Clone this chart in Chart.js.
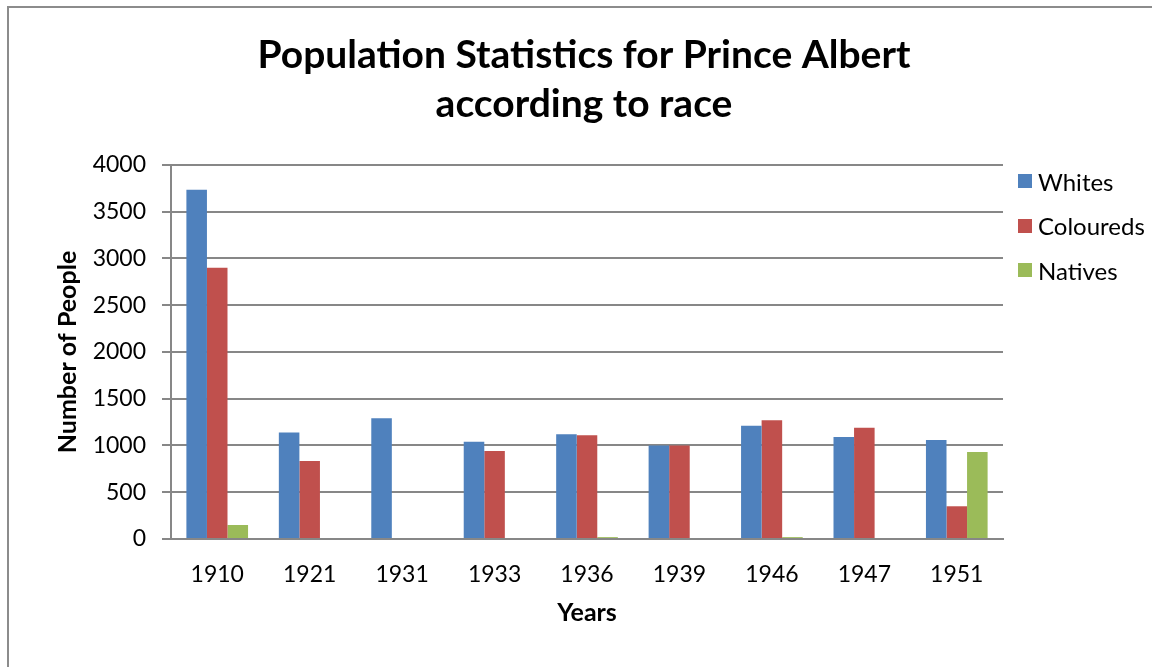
<!DOCTYPE html>
<html lang="en">
<head>
    <meta charset="UTF-8">
    <title>Population Statistics for Prince Albert</title>
    <script src="https://cdn.jsdelivr.net/npm/chart.js@4.4.0/dist/chart.umd.min.js"></script>
    <style>
        body {
            margin: 0;
            padding: 0;
            background: #ffffff;
            font-family: 'Lato', sans-serif;
        }
        /* gray frame around the chart, runs off the right and bottom */
        .frame {
            position: absolute;
            left: 7px;
            top: 6px;
            width: 1160px;
            height: 700px;
            border: 2px solid #8c8c8c;
        }
        .chart-box {
            position: absolute;
            left: 0;
            top: 0;
            width: 1152px;
            height: 667px;
        }
        /* legend on the right, built from the datasets */
        #legend {
            position: absolute;
            left: 1018px;
            top: 167px;
            margin: 0;
            padding: 0;
            list-style: none;
            font-size: 24px;
            color: #000000;
        }
        #legend li {
            display: flex;
            align-items: center;
            height: 28px;
            margin-bottom: 16.5px;
        }
        #legend .swatch {
            display: inline-block;
            width: 14px;
            height: 14px;
            margin-right: 6px;
        }
    </style>
</head>
<body>
    <div class="frame"></div>
    <div class="chart-box">
        <canvas id="popChart"></canvas>
    </div>
    <ul id="legend"></ul>

    <script>
        // Data
        const years = ['1910', '1921', '1931', '1933', '1936', '1939', '1946', '1947', '1951'];
        const whites = [3735, 1140, 1290, 1040, 1120, 1000, 1210, 1090, 1060];
        const coloureds = [2900, 835, 0, 940, 1110, 1000, 1270, 1190, 350];
        const natives = [150, 0, 0, 0, 20, 0, 20, 0, 930];

        const fontFamily = "'Lato', sans-serif";
        const gridColor = '#878787';

        Chart.defaults.font.family = fontFamily;
        Chart.defaults.color = '#000000';

        const ctx = document.getElementById('popChart').getContext('2d');

        const popChart = new Chart(ctx, {
            type: 'bar',
            data: {
                labels: years,
                datasets: [
                    { label: 'Whites', data: whites, backgroundColor: '#4F81BD' },
                    { label: 'Coloureds', data: coloureds, backgroundColor: '#C0504D' },
                    { label: 'Natives', data: natives, backgroundColor: '#9BBB59' }
                ]
            },
            options: {
                responsive: true,
                maintainAspectRatio: false,
                animation: false,
                datasets: {
                    bar: {
                        categoryPercentage: 0.667,
                        barPercentage: 1.0
                    }
                },
                layout: {
                    padding: { left: 16, right: 0, top: 0, bottom: 35 }
                },
                plugins: {
                    title: {
                        display: true,
                        text: ['Population Statistics for Prince Albert', 'according to race'],
                        font: { size: 39, weight: 'bold', lineHeight: 1.256 },
                        color: '#000000',
                        padding: { top: 31, bottom: 36 }
                    },
                    legend: { display: false },
                    tooltip: { enabled: false }
                },
                scales: {
                    x: {
                        afterFit: function (scale) { scale.height = 93; },
                        grid: { display: false, drawTicks: false },
                        border: { color: gridColor, width: 2 },
                        ticks: {
                            font: { size: 23 },
                            padding: 22,
                            color: '#000000'
                        },
                        title: {
                            display: true,
                            text: 'Years',
                            font: { size: 25, weight: 'bold' },
                            padding: { top: 9, bottom: 4 },
                            color: '#000000'
                        }
                    },
                    y: {
                        min: 0,
                        max: 4000,
                        afterFit: function (scale) { scale.width = 155; },
                        ticks: {
                            stepSize: 500,
                            font: { size: 23 },
                            padding: 16,
                            color: '#000000',
                            callback: function (value) { return String(value); }
                        },
                        grid: {
                            color: gridColor,
                            lineWidth: 2,
                            tickLength: 9,
                            drawTicks: true
                        },
                        border: { color: gridColor, width: 2 },
                        title: {
                            display: true,
                            text: 'Number of People',
                            font: { size: 25, weight: 'bold' },
                            padding: { top: 37, bottom: 4 },
                            color: '#000000'
                        }
                    },
                    // empty right axis keeps room for the legend
                    yRight: {
                        position: 'right',
                        display: true,
                        afterFit: function (scale) { scale.width = 149; },
                        grid: { display: false, drawTicks: false },
                        border: { display: false },
                        ticks: { display: false }
                    }
                }
            }
        });

        // legend from the chart's datasets
        const legendEl = document.getElementById('legend');
        popChart.data.datasets.forEach(ds => {
            const li = document.createElement('li');
            const sw = document.createElement('span');
            sw.className = 'swatch';
            sw.style.background = ds.backgroundColor;
            li.appendChild(sw);
            li.appendChild(document.createTextNode(ds.label));
            legendEl.appendChild(li);
        });
    </script>
</body>
</html>
